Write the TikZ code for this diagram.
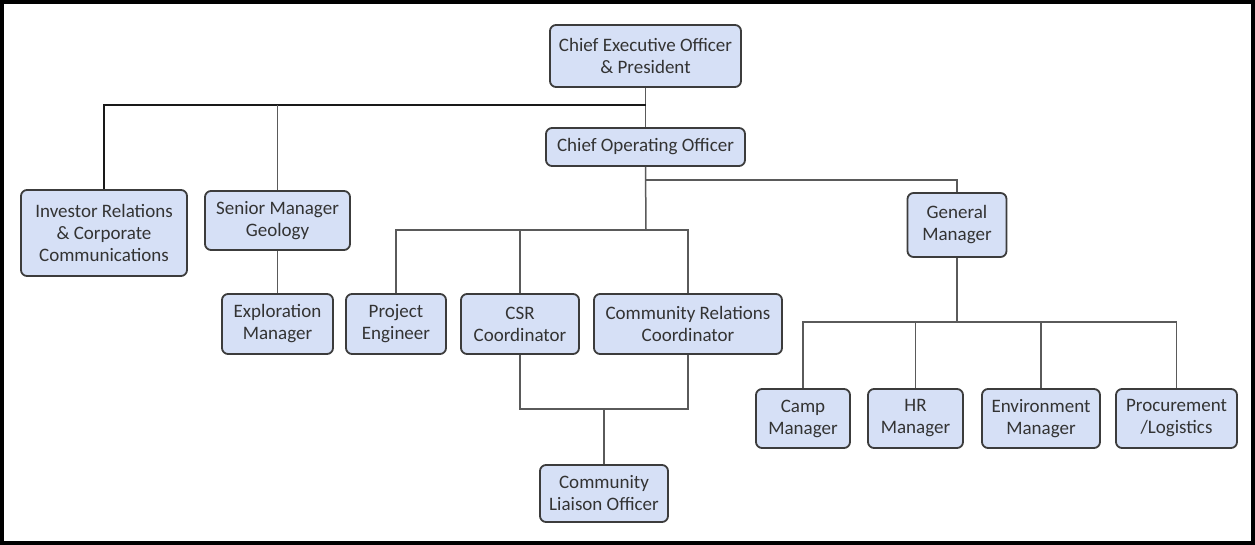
\documentclass[tikz,border=0pt]{standalone}
\usepackage{fontspec}
\setmainfont{Carlito}

\definecolor{boxfill}{RGB}{214,224,246}
\definecolor{boxline}{RGB}{60,60,60}
\definecolor{linkgray}{RGB}{90,90,90}

\begin{document}
\begin{tikzpicture}[x=1pt, y=-1pt,
	box/.style={draw=boxline, fill=boxfill, line width=1.8pt, rounded corners=6pt,
		align=center, inner sep=0pt, text=black!80, font=\fontsize{19}{22}\selectfont},
	link/.style={draw=linkgray, line width=1.5pt}]
	\useasboundingbox (0,0) rectangle (1255,545);
	\draw[line width=4pt] (2,2) rectangle (1253,543);

	% top of the tree
	\node[box, minimum width=191, minimum height=62] (ceo) at (645.5,56) {Chief Executive Officer\\\& President};
	\node[box, minimum width=199, minimum height=38] (coo) at (645.5,147) {Chief Operating Officer};
	\node[box, minimum width=166, minimum height=86] (inv) at (104,233) {Investor Relations\\\& Corporate\\Communications};
	\node[box, minimum width=145, minimum height=59] (smg) at (277.5,220.5) {Senior Manager\\Geology};
	\node[box, minimum width=111, minimum height=60] (expl) at (277.5,324) {Exploration\\Manager};

	% operations
	\node[box, minimum width=100, minimum height=60] (pe) at (396,324) {Project\\Engineer};
	\node[box, minimum width=118, minimum height=60] (csr) at (520,324) {CSR\\Coordinator};
	\node[box, minimum width=188, minimum height=60] (crc) at (688,324) {Community Relations\\Coordinator};
	\node[box, minimum width=128, minimum height=57] (cli) at (604,493.5) {Community\\Liaison Officer};
	\node[box, minimum width=99, minimum height=64] (gm) at (957,225) {General\\Manager};

	% site managers
	\foreach \name/\x/\w/\txt in {camp/803/94/{Camp\\Manager}, hr/915.5/95/{HR\\Manager},
		env/1041/118/{Environment\\Manager}, proc/1176.5/121/{Procurement\\/Logistics}}
		\node[box, minimum width=\w, minimum height=59] (\name) at (\x,418.5) {\txt};

	\coordinate (b1) at (646,105);
	\coordinate (b2) at (646,230);
	\coordinate (b3) at (646,180);
	\coordinate (b4) at (957,322);
	\coordinate (b5) at (604,409);

	\draw[link] (ceo) -- (coo);
	\draw[line width=1.8pt, black!90] (inv.north) |- (b1);
	\draw[link] (smg.north) -- (smg.north |- b1);
	\draw[link] (smg) -- (expl);

	\draw[link] (coo.south) -- (b2);
	\draw[link] (b3) -| (gm.north);
	\draw[link] (pe.north) |- (crc.north |- b2) -- (crc.north);
	\draw[link] (csr.north) -- (csr.north |- b2);

	\draw[link] (csr.south) |- (crc.south |- b5) -- (crc.south);
	\draw[link] (b5) -- (cli.north);

	\draw[link] (gm.south) -- (b4);
	\draw[link] (camp.north) |- (proc.north |- b4) -- (proc.north);
	\foreach \name in {hr, env}
		\draw[link] (\name.north) -- (\name.north |- b4);
\end{tikzpicture}
\end{document}
